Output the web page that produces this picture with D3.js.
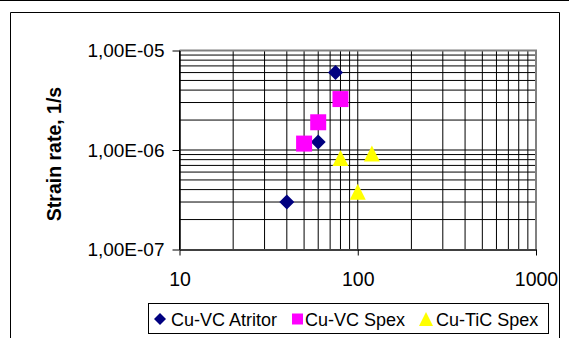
<!DOCTYPE html>
<html><head><meta charset="utf-8">
<script src="https://cdn.jsdelivr.net/npm/d3@7"></script>
<style>body{margin:0;background:#fff}svg{display:block}</style>
</head><body>
<svg id="c" width="569" height="338"></svg>
<script>
const seriesNames = ["Cu-VC Atritor", "Cu-VC Spex", "Cu-TiC Spex"];
const atritorX = [40, 60, 75];
const atritorY = [3.0e-7, 1.2e-6, 6.0e-6];
const vcSpexX = [50, 60, 80];
const vcSpexY = [1.16e-6, 1.9e-6, 3.25e-6];
const ticSpexX = [80, 100, 120];
const ticSpexY = [8.3e-7, 3.8e-7, 9.2e-7];
const xTickLabels = ["10", "100", "1000"];
const yTickLabels = ["1,00E-05", "1,00E-06", "1,00E-07"];
const yTitle = "Strain rate, 1/s";

const svg = d3.select("#c");
const font = "Liberation Sans, Arial, sans-serif";
const L = 179.5, R = 536, T = 50.5, B = 249.5;
const x = d3.scaleLog().domain([10, 1000]).range([L, R]);
const y = d3.scaleLog().domain([1e-7, 1e-5]).range([B, T]);

// outer frame
svg.append("line").attr("x1",0).attr("x2",569).attr("y1",0.5).attr("y2",0.5).attr("stroke","#000");
svg.append("path").attr("d","M10.5,340V12.5H559.5V340").attr("fill","none").attr("stroke","#000");

// gridlines
const xGrid = [];
[10,100].forEach(d=>{for(let k=1;k<=9;k++) xGrid.push(d*k);});
xGrid.push(1000);
const yGrid = [];
[1e-7,1e-6].forEach(d=>{for(let k=1;k<=9;k++) yGrid.push(d*k);});
yGrid.push(1e-5);
const g = svg.append("g");
g.selectAll(".vg").data(xGrid).join("line")
  .attr("x1",d=>x(d)).attr("x2",d=>x(d)).attr("y1",T).attr("y2",B)
  .attr("stroke","#000").attr("stroke-width",1);
g.selectAll(".hg").data(yGrid).join("line")
  .attr("x1",L).attr("x2",R).attr("y1",d=>y(d)).attr("y2",d=>y(d))
  .attr("stroke","#000").attr("stroke-width",1);

// plot border (gray)
svg.append("path").attr("d",`M${L},${T}H${R}V${B}`).attr("fill","none").attr("stroke","#808080").attr("stroke-width",2);

// axes
const yAxis = d3.axisLeft(y).tickValues([1e-5,1e-6,1e-7]).tickSize(7).tickSizeOuter(0)
  .tickFormat((d,i)=>yTickLabels[i]).tickPadding(8);
const ya = svg.append("g").attr("transform",`translate(${L},0)`).call(yAxis);
const xAxis = d3.axisBottom(x).tickValues([10,100,1000]).tickSize(6).tickSizeOuter(0)
  .tickFormat((d,i)=>xTickLabels[i]).tickPadding(17);
const xa = svg.append("g").attr("transform",`translate(0,${B})`).call(xAxis);
[ya,xa].forEach(a=>{
  a.select(".domain").attr("stroke","#000").attr("stroke-width",1.5);
  a.selectAll(".tick line").attr("stroke","#000");
  a.selectAll("text").attr("font-family",font).attr("font-size",19.5).attr("fill","#000");
});
ya.selectAll("text").attr("font-size",19);
xa.select(".domain").attr("stroke","#404040").attr("stroke-width",2);

// y title
svg.append("text").attr("transform",`translate(61,154) rotate(-90)`)
  .attr("text-anchor","middle").attr("font-family",font).attr("font-size",19.5)
  .attr("font-weight","bold").text(yTitle);

// markers
function markerPath(kind, s){
  const h = s/2;
  if(kind==="diamond") return `M0,${-h}L${h},0L0,${h}L${-h},0Z`;
  if(kind==="square") return `M${-h},${-h}H${h}V${h}H${-h}Z`;
  return `M0,${-h}L${h},${h}H${-h}Z`;
}
function drawSeries(xs, ys, kind, color, s){
  svg.append("g").selectAll("path").data(xs).join("path")
    .attr("d", markerPath(kind, s))
    .attr("transform",(d,i)=>`translate(${x(d)},${y(ys[i])})`)
    .attr("fill",color);
}
drawSeries(atritorX, atritorY, "diamond", "#000080", 15);
drawSeries(vcSpexX, vcSpexY, "square", "#FF00FF", 16);
drawSeries(ticSpexX, ticSpexY, "triangle", "#FFFF00", 16);

// legend
const lg = svg.append("g");
lg.append("rect").attr("x",148.5).attr("y",303.5).attr("width",400).attr("height",30)
  .attr("fill","#fff").attr("stroke","#000");
const items = [
  {kind:"diamond", color:"#000080", mx:160, tx:171, s:12},
  {kind:"square", color:"#FF00FF", mx:297.5, tx:305, s:11},
  {kind:"triangle", color:"#FFFF00", mx:426, tx:436, s:14}
];
items.forEach((it,i)=>{
  lg.append("path").attr("d",markerPath(it.kind, it.s))
    .attr("transform",`translate(${it.mx},319)`)
    .attr("fill",it.color);
  lg.append("text").attr("x",it.tx).attr("y",325.5).attr("font-family",font)
    .attr("font-size",18).text(seriesNames[i]);
});
</script>
</body></html>
